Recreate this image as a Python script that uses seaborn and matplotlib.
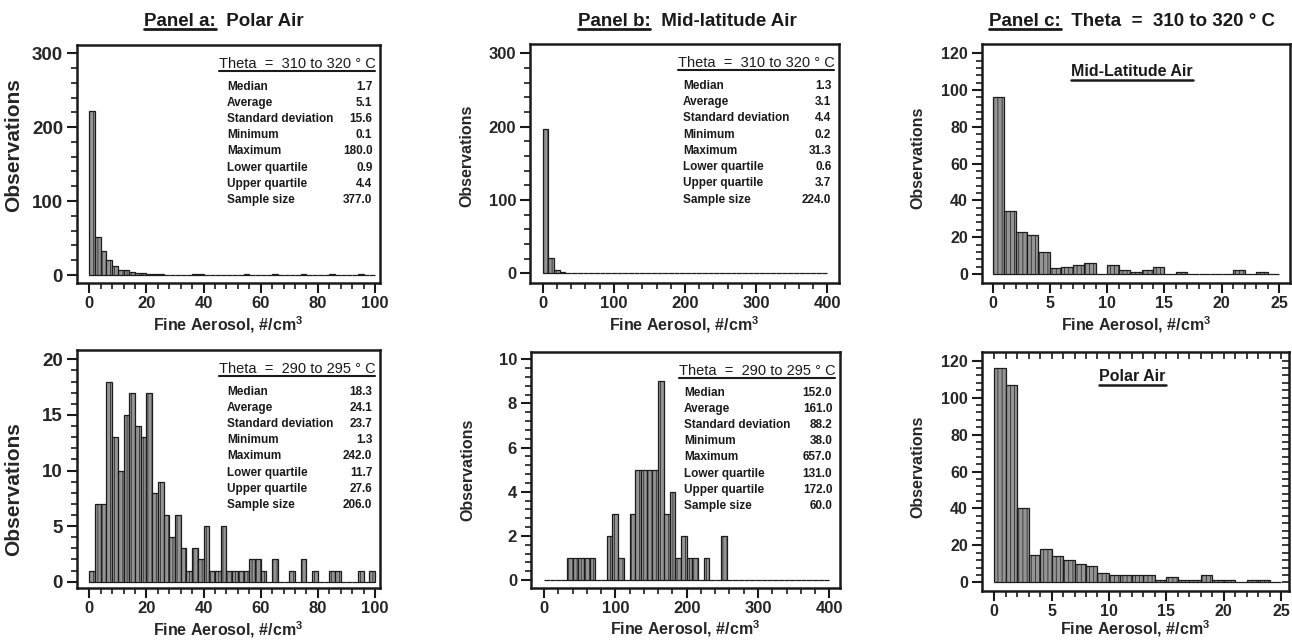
import numpy as np
import pandas as pd
import matplotlib
matplotlib.use("Agg")
import matplotlib.pyplot as plt
import seaborn as sns
from matplotlib.lines import Line2D

# values
stat_names = ["Median", "Average", "Standard deviation", "Minimum",
              "Maximum", "Lower quartile", "Upper quartile", "Sample size"]

# panel a (polar air), counts per 2 #/cm3 bin, 0-100
polar_310_counts = [222, 52, 32, 20, 12, 7, 7, 4, 3, 3, 2, 2, 1, 0, 0, 0, 0, 0, 1, 1,
                    0, 0, 0, 0, 0, 0, 0, 1, 0, 0, 0, 0, 1, 0, 0, 0, 0, 1, 0, 0,
                    0, 0, 1, 0, 0, 0, 0, 1, 0, 0]
polar_290_counts = [1, 7, 7, 18, 13, 10, 15, 17, 14, 13, 17, 8, 9, 6, 4, 6, 3, 1, 3, 2,
                    5, 1, 1, 5, 1, 1, 1, 1, 2, 2, 1, 0, 2, 0, 0, 1, 0, 2, 0, 1,
                    0, 0, 1, 1, 0, 0, 0, 1, 0, 1]
# panel b (mid-latitude air), counts per 8 #/cm3 bin, 0-400
mid_310_counts = [197, 21, 4, 2] + [0] * 46
mid_290_counts = [0, 0, 0, 0, 1, 1, 1, 1, 1, 0, 0, 2, 3, 1, 0, 3, 5, 5, 5, 5,
                  9, 3, 4, 1, 2, 1, 1, 0, 1, 0, 0, 2] + [0] * 18
# panel c, counts per 1 #/cm3 bin, 0-25
mid_c_counts = [96, 34, 23, 21, 12, 3, 4, 5, 6, 0, 5, 2, 1, 2, 4, 0, 1, 0, 0, 0,
                0, 2, 0, 1, 0]
polar_c_counts = [116, 107, 40, 15, 18, 14, 12, 10, 9, 5, 4, 4, 4, 4, 1, 3, 1, 1, 4, 1,
                  1, 0, 1, 1, 0]

polar_310_stats = ["1.7", "5.1", "15.6", "0.1", "180.0", "0.9", "4.4", "377.0"]
polar_290_stats = ["18.3", "24.1", "23.7", "1.3", "242.0", "11.7", "27.6", "206.0"]
mid_310_stats = ["1.3", "3.1", "4.4", "0.2", "31.3", "0.6", "3.7", "224.0"]
mid_290_stats = ["152.0", "161.0", "88.2", "38.0", "657.0", "131.0", "172.0", "60.0"]

header_310 = "Theta  =  310 to 320 \u00b0 C"
header_290 = "Theta  =  290 to 295 \u00b0 C"
xlab = "Fine Aerosol, #/cm$^\\mathbf{3}$"

sns.set_style("ticks")
plt.rcParams['font.family'] = ['Liberation Sans', 'DejaVu Sans']
plt.rcParams['mathtext.fontset'] = 'custom'
plt.rcParams['mathtext.bf'] = 'Liberation Sans:bold'
plt.rcParams['hatch.linewidth'] = 0.5

BAR = "#949494"
EDGE = "#1c1c1c"
INK = "#1a1a1a"

fig = plt.figure(figsize=(12.92, 6.43), dpi=100)
W, H = 1292, 643


def px_axes(x0, y0, x1, y1):
    return fig.add_axes([x0 / W, 1 - y1 / H, (x1 - x0) / W, (y1 - y0) / H])


def draw_hist(ax, counts, width, xlim, ylim, xmaj, ymaj, xmax, ymax):
    nb = len(counts)
    df = pd.DataFrame({"x": np.arange(nb) * width + width / 2, "n": counts})
    sns.histplot(data=df, x="x", weights="n", binwidth=width,
                 binrange=(0, nb * width), ax=ax,
                 color=BAR, edgecolor=EDGE, linewidth=0.9, alpha=1)
    for p in ax.patches:
        p.set_hatch("||||")
    ax.set_xlim(*xlim)
    ax.set_ylim(*ylim)
    ax.set_xticks(np.arange(0, xmax + 1e-9, xmaj))
    ax.set_yticks(np.arange(0, ymax + 1e-9, ymaj))
    ax.set_xticks(np.arange(0, xmax + 1e-9, xmaj / 5), minor=True)
    ax.set_yticks(np.arange(0, ymax + 1e-9, ymaj / 5), minor=True)
    for s in ax.spines.values():
        s.set_visible(True)
        s.set_linewidth(1.8)
        s.set_color(INK)
    ax.tick_params(which="major", direction="out", length=7, width=1.5,
                   labelsize=12, pad=3, color=INK)
    ax.tick_params(which="minor", direction="out", length=4, width=1.2, color=INK)
    ax.tick_params(axis="x", pad=2.5)
    for lab in ax.get_xticklabels() + ax.get_yticklabels():
        lab.set_fontweight("bold")
    ax.set_xlabel(xlab, fontsize=11.5, fontweight="bold")


def stats_box(ax, header, values):
    t = ax.text(0.985, 0.92, header, transform=ax.transAxes, ha="right",
                va="center", fontsize=10.5, color=INK)
    for i, (name, val) in enumerate(zip(stat_names, values)):
        y = 0.825 - i * 0.068
        ax.text(0.495, y, name, transform=ax.transAxes, ha="left", va="center",
                fontsize=8.5, fontweight="bold", color=INK)
        ax.text(0.975, y, val, transform=ax.transAxes, ha="right", va="center",
                fontsize=8.5, fontweight="bold", color=INK)
    return t


ax_a1 = px_axes(77, 45, 380, 283)
ax_a2 = px_axes(77, 350, 380, 588)
ax_b1 = px_axes(530, 44, 839, 283)
ax_b2 = px_axes(531, 352, 840, 588)
ax_c1 = px_axes(982, 44, 1290, 283)
ax_c2 = px_axes(982, 352, 1289, 591)

draw_hist(ax_a1, polar_310_counts, 2, (-4.3, 101.75), (-10.8, 311), 20, 100, 100, 300)
draw_hist(ax_a2, polar_290_counts, 2, (-4.3, 101.75), (-0.57, 20.84), 20, 5, 100, 20)
draw_hist(ax_b1, mid_310_counts, 8, (-17.8, 416.4), (-13.2, 312.7), 100, 100, 400, 300)
draw_hist(ax_b2, mid_290_counts, 8, (-18.2, 415), (-0.36, 10.33), 100, 2, 400, 10)
draw_hist(ax_c1, mid_c_counts, 1, (-0.93, 25.96), (-4.9, 125), 5, 20, 25, 120)
draw_hist(ax_c2, polar_c_counts, 1, (-1.07, 25.7), (-4.7, 124.7), 5, 20, 25, 120)

# the y label of panel a is set larger in the original than in b and c
ylab_pos = [(ax_a1, 15, -0.177, 0.58), (ax_a2, 15, -0.177, 0.416),
            (ax_b1, 11.5, -0.18, 0.531), (ax_b2, 11.5, -0.18, 0.5),
            (ax_c1, 11.5, -0.183, 0.523), (ax_c2, 11.5, -0.183, 0.519)]
for ax, fs, lx, ly in ylab_pos:
    ax.set_ylabel("Observations", fontsize=fs, fontweight="bold")
    ax.yaxis.set_label_coords(lx, ly)
for ax in (ax_a1, ax_a2):
    ax.tick_params(axis="y", labelsize=13.5)

for ax in (ax_a1, ax_b1, ax_c1, ax_a2, ax_b2):
    ax.xaxis.set_label_coords(0.5, -0.13)
ax_c2.xaxis.set_label_coords(0.5, -0.115)
for ax in (ax_c1, ax_c2):
    ax.tick_params(labelsize=11.5)

# inward ticks on top and right of the last panel
top = ax_c2.secondary_xaxis("top")
top.set_xticks(np.arange(0, 25.01, 1))
top.tick_params(direction="in", length=5, width=1.2, labeltop=False, color=INK)
right = ax_c2.secondary_yaxis("right")
right.set_yticks(np.arange(0, 120.01, 4))
right.tick_params(direction="in", length=5, width=1.2, labelright=False, color=INK)

headers = [stats_box(ax_a1, header_310, polar_310_stats),
           stats_box(ax_a2, header_290, polar_290_stats),
           stats_box(ax_b1, header_310, mid_310_stats),
           stats_box(ax_b2, header_290, mid_290_stats)]

inner = [ax_c1.text(0.487, 0.884, "Mid-Latitude Air", transform=ax_c1.transAxes,
                    ha="center", va="center", fontsize=11.5, fontweight="bold", color=INK),
         ax_c2.text(0.49, 0.897, "Polar Air", transform=ax_c2.transAxes,
                    ha="center", va="center", fontsize=11.5, fontweight="bold", color=INK)]

titles = [("Panel a:", "Panel a:  Polar Air", 224),
          ("Panel b:", "Panel b:  Mid-latitude Air", 687),
          ("Panel c:", "Panel c:  Theta  =  310 to 320 \u00b0 C", 1132)]
title_objs = []
for part, full, xc in titles:
    t = fig.text(xc / W, 1 - 21 / H, full, ha="center", va="center",
                 fontsize=13.5, fontweight="bold", color=INK)
    title_objs.append((t, part))

renderer = fig.canvas.get_renderer()
inv = fig.transFigure.inverted()


def underline(t, part=None, lw=1.5, drop=1):
    bb = t.get_window_extent(renderer)
    x1 = bb.x1
    if part is not None:
        tmp = fig.text(0, 0, part, fontproperties=t.get_fontproperties())
        x1 = bb.x0 + tmp.get_window_extent(renderer).width
        tmp.remove()
    (fx0, fy), (fx1, _) = inv.transform([(bb.x0, bb.y0 + drop), (x1, bb.y0 + drop)])
    fig.add_artist(Line2D([fx0, fx1], [fy, fy], transform=fig.transFigure,
                          color=INK, lw=lw))


for t, part in title_objs:
    underline(t, part, lw=2)
for t in headers:
    underline(t, lw=1.5, drop=0)
for t in inner:
    underline(t, lw=1.8, drop=-1)

fig.savefig("out.png", dpi=100, facecolor="white")
